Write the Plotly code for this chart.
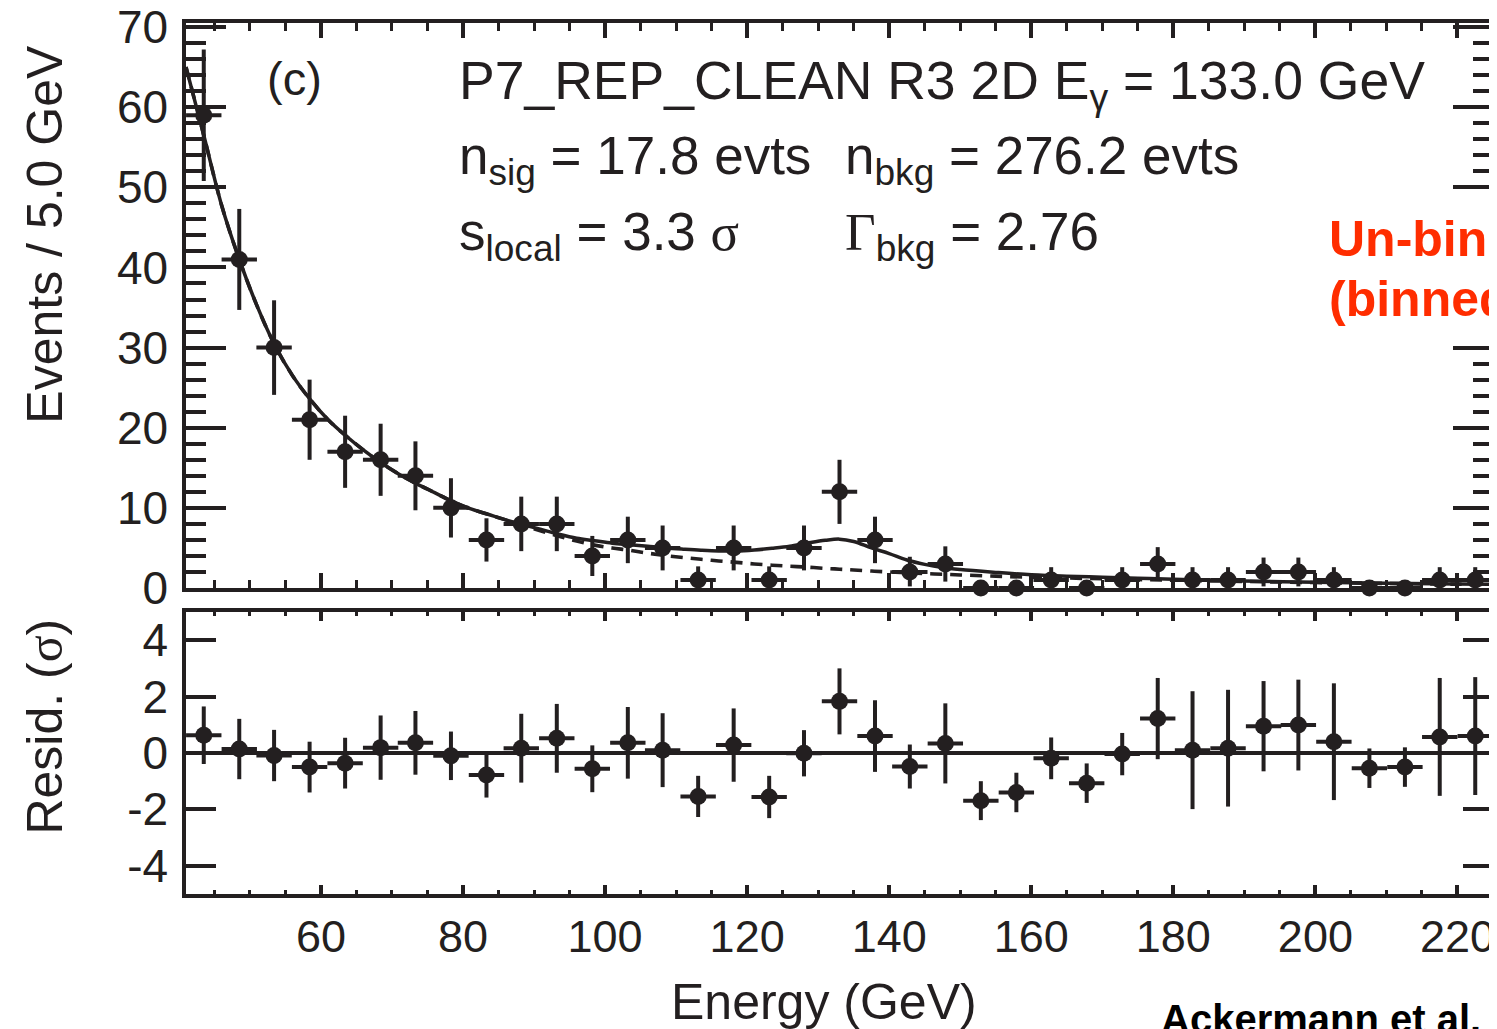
import plotly.graph_objects as go

# binned photon counts (5 GeV bins)
energy = [43.5, 48.5, 53.4, 58.4, 63.4, 68.4, 73.3, 78.3, 83.3, 88.2, 93.2, 98.2,
          103.2, 108.1, 113.1, 118.1, 123.1, 128.0, 133.0, 138.0, 142.9, 147.9,
          152.9, 157.9, 162.8, 167.8, 172.8, 177.8, 182.7, 187.7, 192.7, 197.6,
          202.6, 207.6, 212.6, 217.5, 222.5]
BIN_HALF = 2.49
counts = [59, 41, 30, 21, 17, 16, 14, 10, 6, 8, 8, 4, 6, 5, 1, 5, 1, 5, 12, 6, 2, 3,
          0, 0, 1, 0, 1, 3, 1, 1, 2, 2, 1, 0, 0, 1, 1]
counts_err_hi = [8.2, 6.3, 5.9, 5.0, 4.5, 4.5, 4.3, 3.7, 2.7, 3.4, 3.4, 2.5, 2.9, 2.8,
                 1.7, 2.8, 1.7, 2.8, 4.0, 2.9, 1.9, 2.2, 0, 0, 1.6, 0, 1.6, 2.1, 1.6,
                 1.6, 1.8, 1.8, 1.6, 0, 0, 1.6, 1.6]
counts_err_lo = [8.2, 6.3, 5.9, 5.0, 4.5, 4.5, 4.3, 3.7, 2.7, 3.4, 3.4, 2.5, 2.9, 2.8,
                 1.0, 2.8, 1.0, 2.8, 4.0, 2.9, 1.8, 2.2, 0, 0, 1.0, 0, 1.0, 2.1, 1.0,
                 1.0, 1.8, 1.8, 1.0, 0, 0, 1.0, 1.0]

# residuals in sigma
resid = [0.63, 0.14, -0.09, -0.5, -0.36, 0.19, 0.36, -0.1, -0.78, 0.17, 0.52, -0.56,
         0.36, 0.1, -1.54, 0.28, -1.56, -0.01, 1.83, 0.6, -0.48, 0.34, -1.69, -1.4,
         -0.19, -1.07, -0.04, 1.22, 0.1, 0.17, 0.95, 0.99, 0.4, -0.54, -0.5, 0.57, 0.6]
resid_err = [1.02, 1.07, 0.91, 0.9, 0.9, 1.14, 1.13, 0.86, 0.8, 1.22, 1.22, 0.83, 1.27,
             1.31, 0.73, 1.3, 0.75, 0.82, 1.17, 1.27, 0.78, 1.42, 0.69, 0.7, 0.74, 0.7,
             0.75, 1.44, 2.09, 2.07, 1.6, 1.61, 2.07, 0.7, 0.7, 2.09, 2.09]

# fitted model curves (total = solid, background only = dashed)
curve_e = [41, 43.5, 46, 48.5, 51, 53.5, 56, 58.5, 61, 63.5, 66, 68.5, 71, 73.5, 76,
           78.5, 81, 83.5, 86, 88.5, 91, 93.5, 96, 98.5, 101, 103.5, 106, 108.5, 111,
           113.5, 116, 118.5, 121, 123.5, 126, 128.5, 131, 133, 135, 137.5, 140,
           142.5, 145, 147.5, 150, 155, 160, 165, 170, 175, 180, 190, 200, 210, 220,
           225]
model_total = [65.0, 56.5, 47.8, 41.0, 35.2, 30.3, 26.5, 23.5, 21.0, 19.0, 17.2, 15.6,
               14.2, 13.0, 11.9, 10.8, 9.9, 9.2, 8.5, 7.9, 7.3, 6.7, 6.2, 5.9, 5.6,
               5.4, 5.2, 5.0, 4.85, 4.72, 4.63, 4.62, 4.75, 4.95, 5.2, 5.6, 5.95, 6.1,
               5.8, 5.0, 4.3, 3.5, 2.95, 2.55, 2.3, 1.95, 1.65, 1.47, 1.35, 1.22, 1.08,
               0.88, 0.72, 0.6, 0.5, 0.46]
model_bkg = [65.0, 56.5, 47.8, 41.0, 35.2, 30.3, 26.5, 23.5, 21.0, 19.0, 17.2, 15.6,
             14.2, 13.0, 11.9, 10.8, 9.9, 9.2, 8.5, 7.8, 7.1, 6.45, 5.85, 5.35, 5.0,
             4.7, 4.35, 4.05, 3.8, 3.58, 3.38, 3.2, 3.0, 2.85, 2.72, 2.6, 2.45, 2.35,
             2.25, 2.12, 2.0, 1.9, 1.8, 1.72, 1.63, 1.48, 1.35, 1.25, 1.15, 1.06, 0.98,
             0.82, 0.68, 0.57, 0.48, 0.44]

resid_tickvals = [-4, -2, 0, 2, 4]
resid_ticktext = ["-4", "-2", "0", "2", "4"]

INK = "#231f20"
FONT = "Liberation Sans"
SERIF = "Liberation Serif"

fig = go.Figure()

fig.add_trace(go.Scatter(x=curve_e, y=model_bkg, mode="lines", line_shape="spline",
                         line=dict(color=INK, width=3.6, dash="12px,8px"),
                         xaxis="x", yaxis="y"))
fig.add_trace(go.Scatter(x=curve_e, y=model_total, mode="lines", line_shape="spline",
                         line=dict(color=INK, width=3.5), xaxis="x", yaxis="y"))
fig.add_trace(go.Scatter(
    x=energy, y=counts, mode="markers", xaxis="x", yaxis="y", cliponaxis=False,
    marker=dict(color=INK, size=17),
    error_y=dict(type="data", array=counts_err_hi, arrayminus=counts_err_lo,
                 symmetric=False, thickness=4, width=0, color=INK),
    error_x=dict(type="constant", value=BIN_HALF, thickness=4, width=0, color=INK),
))

# zero line of the residual panel
fig.add_shape(type="line", xref="x2 domain", yref="y2", x0=0, x1=1, y0=0, y1=0,
              line=dict(color=INK, width=4), layer="below")
fig.add_trace(go.Scatter(
    x=energy, y=resid, mode="markers", xaxis="x2", yaxis="y2", cliponaxis=False,
    marker=dict(color=INK, size=17),
    error_y=dict(type="data", array=resid_err, thickness=4, width=0, color=INK),
    error_x=dict(type="constant", value=BIN_HALF, thickness=4, width=0, color=INK),
))

common = dict(showline=True, linecolor=INK, linewidth=3.5, mirror="ticks",
              ticks="inside", tickcolor=INK, tickwidth=3.5, showgrid=False,
              zeroline=False, automargin=False, ticklabeloverflow="allow",
              tickfont=dict(family=FONT, size=46, color=INK))

# the page body adds 8 px around the figure, so the figure is 8 px smaller
fig.update_layout(
    width=1489, height=1021,
    margin=dict(l=178, r=4, t=15, b=135),
    paper_bgcolor="white", plot_bgcolor="white",
    showlegend=False,
    font=dict(family=FONT, color=INK),
    xaxis=dict(common, domain=[0, 1], anchor="y", range=[41, 225], tick0=0, dtick=20,
               ticklen=15, showticklabels=False, matches="x2",
               minor=dict(dtick=5, ticklen=8, ticks="inside", tickcolor=INK,
                          tickwidth=3)),
    yaxis=dict(common, domain=[0.3513, 1], anchor="x", range=[0, 70.5], dtick=10,
               ticklen=40, ticklabelstandoff=5,
               minor=dict(dtick=2, ticklen=20, ticks="inside", tickcolor=INK,
                          tickwidth=3.5)),
    xaxis2=dict(common, domain=[0, 1], anchor="y2", range=[41, 225], tick0=0, dtick=20,
                ticklen=9, ticklabelstandoff=0,
                tickfont=dict(family=FONT, size=45, color=INK),
                minor=dict(dtick=5, ticklen=4, ticks="inside", tickcolor=INK,
                           tickwidth=3)),
    yaxis2=dict(common, domain=[0, 0.3238], anchor="x2", range=[-5, 5],
                tickvals=resid_tickvals, ticktext=resid_ticktext, ticklen=30,
                ticklabelstandoff=5),
)

serif = lambda s: "<span style='font-family:%s'>%s</span>" % (SERIF, s)

# axis titles
fig.add_annotation(text="Events / 5.0 GeV", xref="paper", yref="paper", x=-0.108,
                   y=0.758, textangle=-90, showarrow=False, xanchor="center",
                   yanchor="middle", font=dict(size=50, color=INK))
fig.add_annotation(text="Resid. (" + serif("σ") + ")", xref="paper", yref="paper",
                   x=-0.108, y=0.192, textangle=-90, showarrow=False, xanchor="center",
                   yanchor="middle", font=dict(size=50, color=INK))
fig.add_annotation(text="Energy (GeV)", xref="paper", yref="paper", x=0.4885, y=-0.124,
                   showarrow=False, xanchor="center", yanchor="middle",
                   font=dict(size=50, color=INK))

# fit info text in the top panel
info = [
    ("(c)", 0.0604, 0.969, 47),
    ("P7_REP_CLEAN R3 2D E<sub>γ</sub> = 133.0 GeV", 0.2072, 0.970, 53.5),
    ("n<sub>sig</sub> = 17.8 evts", 0.2072, 0.884, 53),
    ("n<sub>bkg</sub> = 276.2 evts", 0.5023, 0.884, 53),
    ("s<sub>local</sub> = 3.3 " + serif("σ"), 0.2072, 0.797, 53),
    (serif("Γ") + "<sub>bkg</sub> = 2.76", 0.5023, 0.797, 53),
]
for txt, x, y, size in info:
    fig.add_annotation(text=txt, xref="paper", yref="paper", x=x, y=y, showarrow=False,
                       xanchor="left", yanchor="top", align="left",
                       font=dict(size=size, color=INK))

# white patch behind the red note (it hides the right frame there)
fig.add_shape(type="rect", xref="paper", yref="paper", x0=0.8654, x1=1.01, y0=0.6303,
              y1=0.8048, fillcolor="white", line=dict(width=0), layer="above")
fig.add_annotation(text="<b>Un-binned fit</b>", xref="paper", yref="paper", x=0.873,
                   y=0.787, showarrow=False, xanchor="left", yanchor="top",
                   font=dict(size=50, color="#ff2d00"))
fig.add_annotation(text="<b>(binned for display)</b>", xref="paper", yref="paper",
                   x=0.873, y=0.718, showarrow=False, xanchor="left", yanchor="top",
                   font=dict(size=50, color="#ff2d00"))
fig.add_annotation(text="<b>Ackermann et al. 2013</b>", xref="paper", yref="paper",
                   x=0.7446, y=-0.116, showarrow=False, xanchor="left", yanchor="top",
                   font=dict(size=40, color="black"))

fig.write_html("out.html")
